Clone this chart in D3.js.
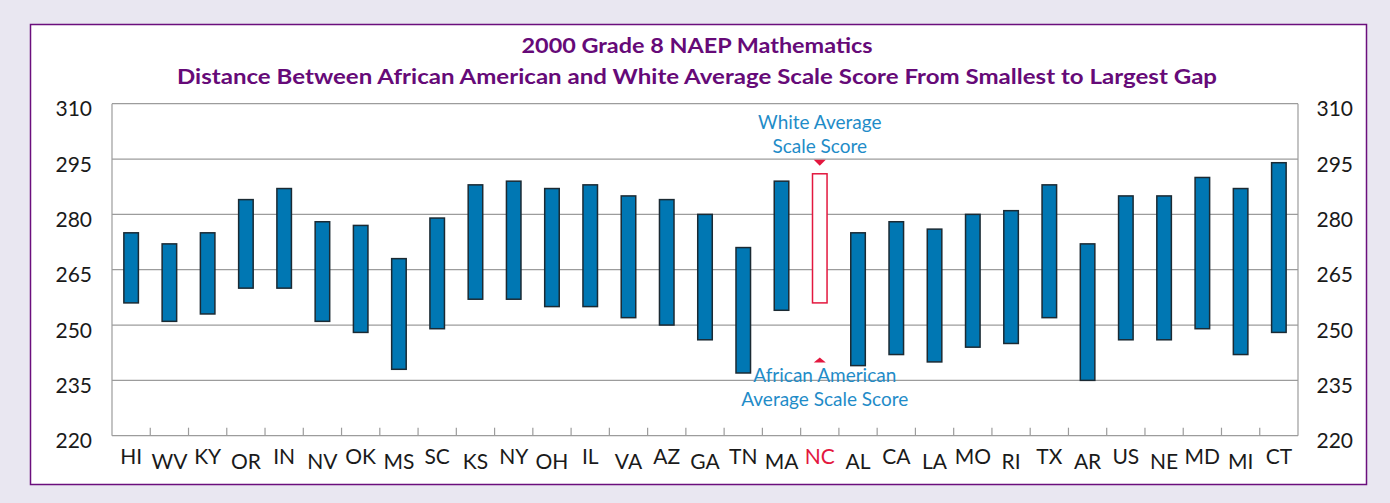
<!DOCTYPE html>
<html>
<head>
<meta charset="utf-8">
<script src="https://cdn.jsdelivr.net/npm/d3@7"></script>
<style>
  html, body { margin: 0; padding: 0; background: #e9e7f1; }
  svg { display: block; }
</style>
</head>
<body>
<svg id="chart" width="1390" height="503"></svg>
<script>
const states = ["HI","WV","KY","OR","IN","NV","OK","MS","SC","KS","NY","OH","IL","VA","AZ","GA","TN","MA","NC","AL","CA","LA","MO","RI","TX","AR","US","NE","MD","MI","CT"];
const whiteScores = [275,272,275,284,287,278,277,268,279,288,289,287,288,285,284,280,271,289,291,275,278,276,280,281,288,272,285,285,290,287,294];
const blackScores = [256,251,253,260,260,251,248,238,249,257,257,255,255,252,250,246,237,254,256,239,242,240,244,245,252,235,246,246,249,242,248];
const yTicks = [220,235,250,265,280,295,310];
const highlight = "NC";
const titleLines = ["2000 Grade 8 NAEP Mathematics", "Distance Between African American and White Average Scale Score From Smallest to Largest Gap"];
const whiteNote = ["White Average", "Scale Score"];
const blackNote = ["African American", "Average Scale Score"];

(function () {
const svg = d3.select("#chart");
const font = "Lato, 'Open Sans', 'DejaVu Sans', sans-serif";

// background and panel
svg.append("rect").attr("x",0).attr("y",0).attr("width",1390).attr("height",503).attr("fill","#e9e7f1");
svg.append("rect").attr("x",30.5).attr("y",24.5).attr("width",1336).attr("height",460)
  .attr("fill","#ffffff").attr("stroke","#6b0f7d").attr("stroke-width",1.5);

const pLeft = 112, pRight = 1298, pTop = 103.7, pBottom = 435.7;

const x = d3.scaleBand().domain(states).range([pLeft, pRight]).paddingInner(0.62).paddingOuter(0.31);
const y = d3.scaleLinear().domain([220, 310]).range([pBottom, pTop]);
const step = x.step();

// title
const titleWidths = [351, 1040];
svg.selectAll("text.title").data(titleLines).join("text")
  .attr("class","title")
  .attr("x", (d,i) => 697 - titleWidths[i]/2)
  .attr("y", (d,i) => [53.3, 84][i])
  .attr("textLength", (d,i) => titleWidths[i])
  .attr("lengthAdjust","spacingAndGlyphs")
  .attr("font-family", font).attr("font-weight", "bold").attr("font-size", 21.5)
  .attr("fill", "#660a78")
  .text(d => d);

// gridlines
svg.append("g").selectAll("line").data(yTicks).join("line")
  .attr("x1", pLeft).attr("x2", pRight)
  .attr("y1", d => y(d)).attr("y2", d => y(d))
  .attr("stroke", "#9c9c9c").attr("stroke-width", 1.2);

// vertical borders
[pLeft, pRight].forEach(xx => {
  svg.append("line").attr("x1", xx).attr("x2", xx).attr("y1", pTop).attr("y2", pBottom)
    .attr("stroke", "#9c9c9c").attr("stroke-width", 1.2);
});

// x tick marks between categories
const boundaries = d3.range(1, states.length).map(i => pLeft + i * step);
svg.append("g").selectAll("line").data(boundaries).join("line")
  .attr("x1", d => d).attr("x2", d => d)
  .attr("y1", pBottom).attr("y2", pBottom - 8)
  .attr("stroke", "#9c9c9c").attr("stroke-width", 1.2);

// y axis labels left & right
const yl = svg.append("g").attr("font-family", font).attr("font-size", 21).attr("fill", "#1a1a1a");
yl.selectAll("text.l").data(yTicks).join("text").attr("class","l")
  .attr("x", 92).attr("y", d => y(d) + 12.5).attr("text-anchor","end").text(d => d);
yl.selectAll("text.r").data(yTicks).join("text").attr("class","r")
  .attr("x", 1316.5).attr("y", d => y(d) + 12.5).attr("text-anchor","start").text(d => d);

// bars
const data = states.map((s,i) => ({state: s, white: whiteScores[i], black: blackScores[i]}));
svg.append("g").selectAll("rect").data(data).join("rect")
  .attr("x", d => x(d.state))
  .attr("width", x.bandwidth())
  .attr("y", d => y(d.white))
  .attr("height", d => y(d.black) - y(d.white))
  .attr("fill", d => d.state === highlight ? "#ffffff" : "#0077b3")
  .attr("stroke", d => d.state === highlight ? "#e3173e" : "#1b2a33")
  .attr("stroke-width", 1.5);

// category labels
svg.append("g").selectAll("text").data(states).join("text")
  .attr("x", d => x(d) + x.bandwidth()/2)
  .attr("y", (d,i) => i % 2 === 0 ? 464 : 468.5)
  .attr("text-anchor","middle")
  .attr("font-family", font).attr("font-size", 21)
  .attr("fill", d => d === highlight ? "#e3173e" : "#1a1a1a")
  .text(d => d);

// annotations
const hi = data.find(d => d.state === highlight);
const cx = x(highlight) + x.bandwidth()/2;
const tw = 6;
const tTop = y(hi.white) - 8;
svg.append("path")
  .attr("d", `M${cx - tw},${tTop - 6} L${cx + tw},${tTop - 6} L${cx},${tTop} Z`)
  .attr("fill", "#e3173e");
const bTop = y(hi.black) + 54.5;
svg.append("path")
  .attr("d", `M${cx - tw},${bTop + 5} L${cx + tw},${bTop + 5} L${cx},${bTop} Z`)
  .attr("fill", "#e3173e");

const note = svg.append("g").attr("font-family", font).attr("font-size", 19).attr("fill", "#1f8cc8").attr("text-anchor","middle");
note.selectAll("text.w").data(whiteNote).join("text").attr("class","w")
  .attr("x", cx).attr("y", (d,i) => 129 + i*23.5).text(d => d);
note.selectAll("text.b").data(blackNote).join("text").attr("class","b")
  .attr("x", cx + 5).attr("y", (d,i) => 382 + i*24).text(d => d);
})();
</script>
</body>
</html>
